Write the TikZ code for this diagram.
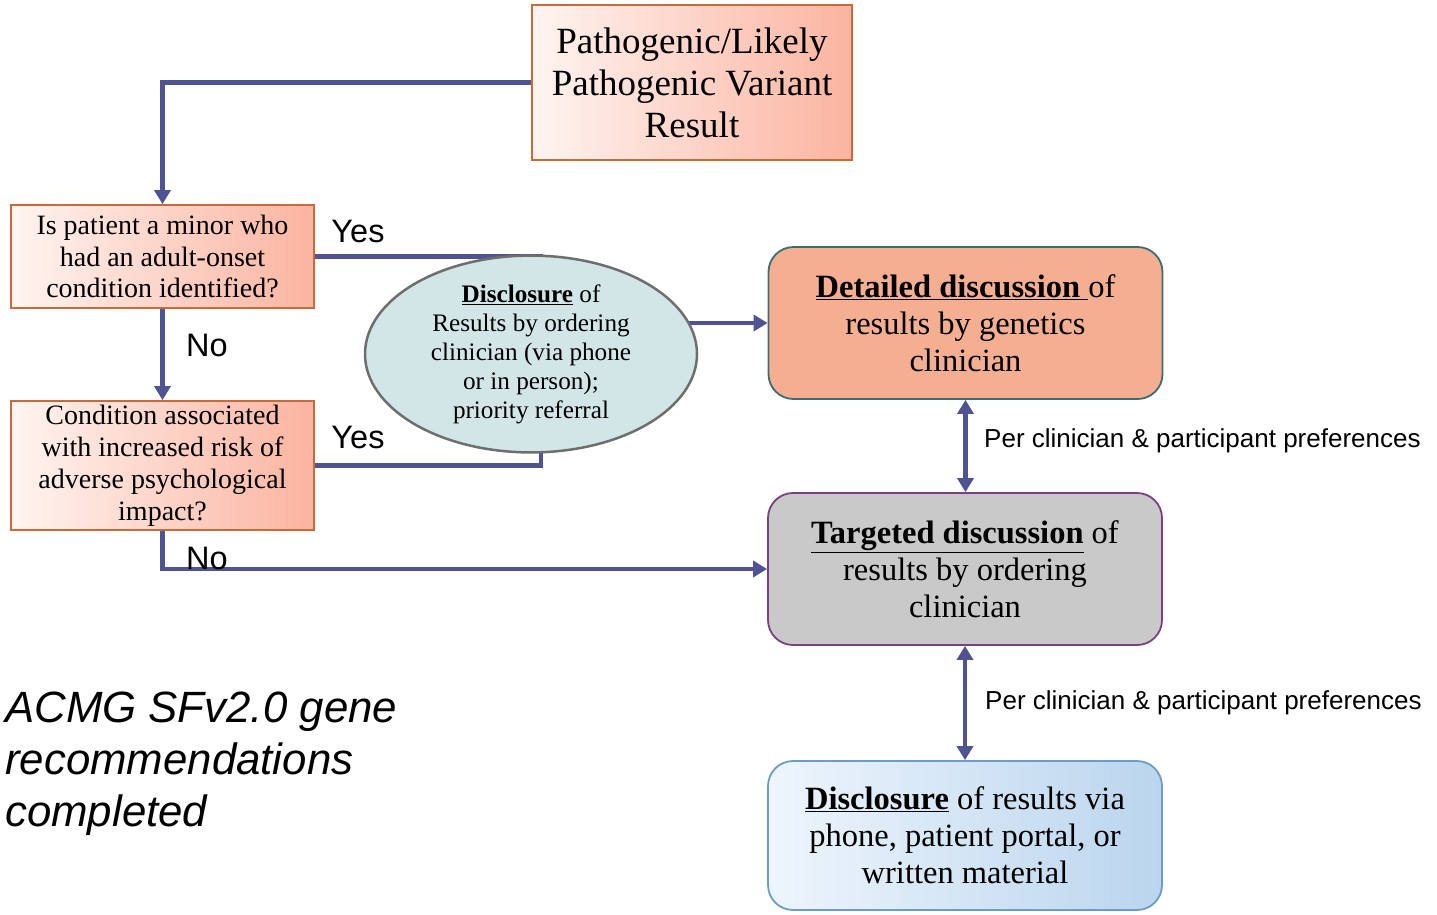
\documentclass[tikz,border=0pt]{standalone}
\usepackage{fontspec}
\setmainfont{Liberation Serif}
\setsansfont{Liberation Sans}
\usetikzlibrary{arrows.meta,shapes.geometric,backgrounds}
\definecolor{conn}{HTML}{4F5391}
\definecolor{orbord}{HTML}{C96A3B}
\definecolor{pinkL}{HTML}{FFF4F1}
\definecolor{pinkR}{HTML}{FBB4A0}
\definecolor{ellfill}{HTML}{D3E6E7}
\definecolor{ellbord}{HTML}{6E6E6E}
\definecolor{detfill}{HTML}{F4AF92}
\definecolor{detbord}{HTML}{3F6C6F}
\definecolor{tgtfill}{HTML}{C9C9C9}
\definecolor{tgtbord}{HTML}{7C3F83}
\definecolor{blueL}{HTML}{EEF5FC}
\definecolor{blueR}{HTML}{BAD5EE}
\definecolor{bluebord}{HTML}{6C9DC9}
\tikzset{
  pinkbox/.style={draw=orbord, line width=1.8pt, left color=pinkL, right color=pinkR,
    align=center, inner sep=0pt},
  roundbox/.style={rounded corners=25pt, line width=1.8pt, align=center, inner sep=0pt,
    minimum width=394pt, minimum height=152pt,
    font=\fontsize{32.5}{37}\selectfont},
  conn/.style={draw=conn, line width=4.5pt},
  tip/.style={-{Triangle[length=14pt,width=16pt]}},
  dtip/.style={{Triangle[length=14pt,width=16pt]}-{Triangle[length=14pt,width=16pt]}},
  lbl/.style={font=\sffamily\fontsize{32.5}{36}\selectfont, inner sep=0pt},
  pref/.style={font=\sffamily\fontsize{26}{30}\selectfont, inner sep=0pt, anchor=west},
}
\begin{document}
\begin{tikzpicture}[x=1pt,y=1pt]
\useasboundingbox (0,0) rectangle (1437,-914);

\node[pinkbox, minimum width=320pt, minimum height=155pt,
  font=\fontsize{37}{42}\selectfont] (top) at (692,-82.5)
  {Pathogenic/Likely\\Pathogenic Variant\\Result};

\node[pinkbox, minimum width=303pt, minimum height=103pt,
  font=\fontsize{28}{31.5}\selectfont] (d1) at (162.5,-256.5)
  {Is patient a minor who\\had an adult-onset\\condition identified?};

\node[pinkbox, minimum width=303pt, minimum height=129pt,
  font=\fontsize{28}{32}\selectfont] (d2) at (162.5,-465.5)
  {Condition associated\\with increased risk of\\adverse psychological\\impact?};

\node[ellipse, draw=ellbord, line width=2.5pt, fill=ellfill, minimum width=332pt,
  minimum height=182pt, inner sep=0pt, align=center,
  font=\fontsize{25.2}{29}\selectfont] (ell) at (531,-354)
  {\underline{\textbf{Disclosure}} of\\Results by ordering\\clinician (via phone\\or in person);\\priority referral};

\node[roundbox, draw=detbord, fill=detfill] (det) at (965.5,-323)
  {\underline{\textbf{Detailed discussion }}of\\results by genetics\\clinician};

\node[roundbox, draw=tgtbord, fill=tgtfill] (tgt) at (965,-569)
  {\underline{\textbf{Targeted discussion}} of\\results by ordering\\clinician};

\node[roundbox, draw=bluebord, left color=blueL, right color=blueR,
  minimum height=149pt] (dis) at (965,-835.5)
  {\underline{\textbf{Disclosure}} of results via\\phone, patient portal, or\\written material};

\node[lbl] (yes1) at (358,-231) {Yes};
\node[lbl] (no1) at (207,-345) {No};
\node[lbl] (yes2) at (358,-437) {Yes};
\node[lbl] (no2) at (207,-558) {No};

\node[pref] (pref1) at (984,-441) {Per clinician \& participant preferences};
\node[pref] (pref2) at (985,-703) {Per clinician \& participant preferences};

\node[anchor=north west, inner sep=0pt, align=left,
  font=\sffamily\itshape\fontsize{43.8}{52}\selectfont] (acmg) at (5,-692)
  {ACMG SFv2.0 gene\\recommendations\\completed};

\coordinate (j1) at (541,-256.5);
\coordinate (j2) at (541,-465.5);

\begin{scope}[on background layer]
  \fill[white] (0,0) rectangle (1437,-914);
  \draw[conn, tip] (top.west) -| (d1.north);
  \draw[conn, tip] (d1.south) -- (d2.north);
  \draw[conn] (d1.east) -- (j1) -- (j1 |- ell.center);
  \draw[conn] (d2.east) -- (j2) -- (j2 |- ell.center);
  \draw[conn, tip] (ell.center |- det.west) -- (det.west);
  \draw[conn, tip] (d2.south) |- (tgt.west);
  \draw[conn, dtip] (det.south) -- (det.south |- tgt.north);
  \draw[conn, dtip] (tgt.south) -- (tgt.south |- dis.north);
\end{scope}
\end{tikzpicture}
\end{document}
